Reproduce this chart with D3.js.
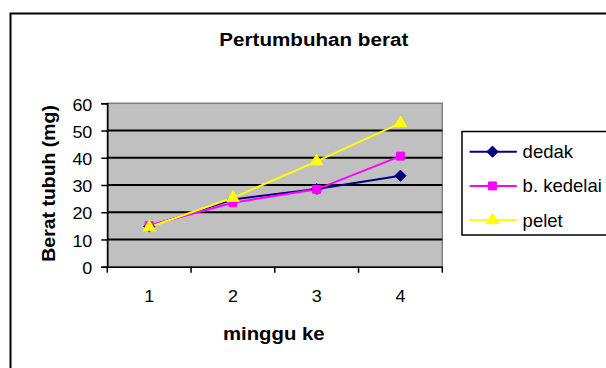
<!DOCTYPE html>
<html>
<head>
<meta charset="utf-8">
<script src="https://cdn.jsdelivr.net/npm/d3@7/dist/d3.min.js"></script>
<style>
  html, body { margin: 0; padding: 0; background: #fff; }
  svg { display: block; }
  text { font-family: "Liberation Sans", Arial, sans-serif; fill: #000; }
</style>
</head>
<body>
<svg id="chart" width="606" height="368"></svg>
<script>
// ---- data ----
const categories = ["1", "2", "3", "4"];
const seriesNames = ["dedak", "b. kedelai", "pelet"];
const dedak    = [14.8, 24.7, 28.5, 33.4];
const kedelai  = [15.1, 23.5, 28.4, 40.6];
const pelet    = [14.5, 25.3, 38.7, 52.7];
const yTicks   = [0, 10, 20, 30, 40, 50, 60];
const titleText = "Pertumbuhan berat";
const xTitleText = "minggu ke";
const yTitleText = "Berat tubuh (mg)";

const seriesValues = [dedak, kedelai, pelet];
const colors = ["#000080", "#ff00ff", "#ffff00"];
const symbols = [d3.symbolDiamond2, d3.symbolSquare2, d3.symbolTriangle2];

const svg = d3.select("#chart");
svg.append("rect").attr("width", 606).attr("height", 368).attr("fill", "#fff");

// outer chart frame (extends past the window on right/bottom)
svg.append("rect").attr("x", 10.5).attr("y", 13.5).attr("width", 700).attr("height", 500)
  .attr("fill", "none").attr("stroke", "#000").attr("stroke-width", 2);

const plot = { left: 107.3, right: 442.3, top: 103.3, bottom: 266.7 };
const x = d3.scaleBand().domain(categories).range([plot.left, plot.right]);
const y = d3.scaleLinear().domain([0, 60]).range([plot.bottom, plot.top]);

function stretch(sel, f) {
  sel.each(function () {
    const w = this.getComputedTextLength();
    d3.select(this).attr("textLength", w * f).attr("lengthAdjust", "spacingAndGlyphs");
  });
}

// plot area
svg.append("rect").attr("x", plot.left).attr("y", plot.top)
  .attr("width", plot.right - plot.left).attr("height", plot.bottom - plot.top)
  .attr("fill", "#c0c0c0").attr("stroke", "#808080").attr("stroke-width", 1.5);

// gridlines
svg.append("g").selectAll("line").data(yTicks.filter(t => t > 0 && t < 60)).join("line")
  .attr("x1", plot.left).attr("x2", plot.right)
  .attr("y1", d => y(d)).attr("y2", d => y(d))
  .attr("stroke", "#000").attr("stroke-width", 2);

// y axis
const yAxis = svg.append("g").attr("transform", `translate(${plot.left},0)`)
  .call(d3.axisLeft(y).tickValues(yTicks).tickSize(6).tickPadding(9).tickFormat(d3.format("d")));
yAxis.select(".domain").attr("stroke", "#000").attr("stroke-width", 1.5);
yAxis.selectAll(".tick line").attr("stroke", "#000").attr("stroke-width", 1.5);
yAxis.selectAll(".tick text").attr("font-size", 16).attr("font-family", "Liberation Sans, Arial, sans-serif")
  .attr("fill", "#000").attr("dy", "0.42em").call(stretch, 1.12);

// x axis
const xAxis = svg.append("g").attr("transform", `translate(0,${plot.bottom})`)
  .call(d3.axisBottom(x).tickSize(0).tickPadding(24));
xAxis.select(".domain").attr("stroke", "#000").attr("stroke-width", 1.5);
xAxis.selectAll(".tick text").attr("font-size", 16).attr("font-family", "Liberation Sans, Arial, sans-serif")
  .attr("fill", "#000").call(stretch, 1.12);
// boundary tick marks
const bounds = d3.range(categories.length + 1).map(i => plot.left + i * x.step());
xAxis.selectAll(".bt").data(bounds).join("line").attr("class", "bt")
  .attr("x1", d => d).attr("x2", d => d).attr("y1", 0).attr("y2", 6)
  .attr("stroke", "#000").attr("stroke-width", 1.5);

// series
const line = d3.line().x((d, i) => x(categories[i]) + x.bandwidth() / 2).y(d => y(d));
seriesValues.forEach((vals, s) => {
  svg.append("path").datum(vals).attr("d", line)
    .attr("fill", "none").attr("stroke", colors[s]).attr("stroke-width", 2);
});
const markerSizes = [80, 80, 110];
seriesValues.forEach((vals, s) => {
  svg.append("g").selectAll("path").data(vals).join("path")
    .attr("transform", (d, i) => `translate(${x(categories[i]) + x.bandwidth() / 2},${y(d)})`)
    .attr("d", d3.symbol().type(symbols[s]).size(markerSizes[s]))
    .attr("fill", colors[s]).attr("stroke", colors[s]).attr("stroke-width", 1);
});

// title
svg.append("text").attr("x", 313.8).attr("y", 46).attr("text-anchor", "middle")
  .attr("font-size", 18).attr("font-weight", "bold").text(titleText).call(stretch, 1.145);

// axis titles
svg.append("text").attr("x", 273.8).attr("y", 340).attr("text-anchor", "middle")
  .attr("font-size", 18).attr("font-weight", "bold").text(xTitleText).call(stretch, 1.13);
svg.append("text").attr("transform", "translate(54.5,183.4) rotate(-90)").attr("text-anchor", "middle")
  .attr("font-size", 18).attr("font-weight", "bold").text(yTitleText).call(stretch, 1.08);

// legend
const lg = svg.append("g");
lg.append("rect").attr("x", 462).attr("y", 131.5).attr("width", 200).attr("height", 103.5)
  .attr("fill", "#fff").attr("stroke", "#000").attr("stroke-width", 1.5);
seriesNames.forEach((name, s) => {
  const cy = 151.7 + s * 34.2;
  lg.append("line").attr("x1", 469.6).attr("x2", 516.8).attr("y1", cy).attr("y2", cy)
    .attr("stroke", colors[s]).attr("stroke-width", 2);
  lg.append("path").attr("transform", `translate(492.5,${cy})`)
    .attr("d", d3.symbol().type(symbols[s]).size(markerSizes[s]))
    .attr("fill", colors[s]).attr("stroke", colors[s]).attr("stroke-width", 1);
  lg.append("text").attr("x", 522.6).attr("y", cy + 6.4).attr("font-size", 18.5).text(name);
});
</script>
</body>
</html>
